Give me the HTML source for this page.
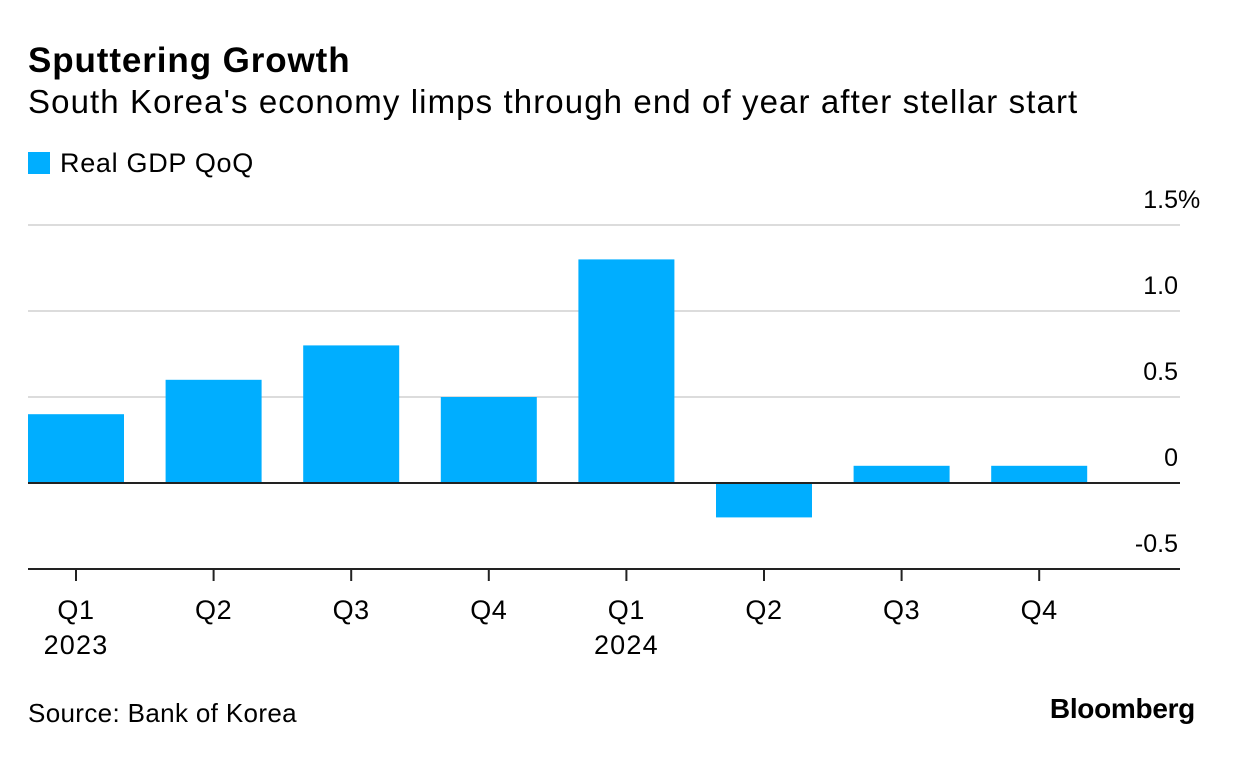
<!DOCTYPE html>
<html><head><meta charset="utf-8"><style>
body{margin:0;background:#fff;width:1233px;height:770px;overflow:hidden;font-family:"Liberation Sans",Arial,sans-serif;color:#000}
.t{position:absolute;left:28px;white-space:nowrap}
</style></head><body>
<div class="t" style="top:41px;font-size:35px;font-weight:bold;letter-spacing:0.9px">Sputtering Growth</div>
<div class="t" style="top:83px;font-size:33px;letter-spacing:1.1px">South Korea's economy limps through end of year after stellar start</div>
<div class="t" style="top:148px;font-size:27px;letter-spacing:0.7px"><span style="display:inline-block;width:22px;height:22px;background:#00aeff;vertical-align:-2px;margin-right:10px"></span>Real GDP QoQ</div>
<svg id="c" width="1233" height="770" style="position:absolute;left:0;top:0"></svg>
<div class="t" style="top:698px;font-size:26px;letter-spacing:0.35px">Source: Bank of Korea</div>
<div style="position:absolute;right:38px;top:693px;font-size:28px;font-weight:bold;letter-spacing:-0.3px">Bloomberg</div>
<script>
const categories=["Q1","Q2","Q3","Q4","Q1","Q2","Q3","Q4"];
const years=["2023","","","","2024","","",""];
const values=[0.4,0.6,0.8,0.5,1.3,-0.2,0.1,0.1];
const yTicks=[-0.5,0,0.5,1.0,1.5];
const yTickLabels=["-0.5","0","0.5","1.0","1.5"];
const svg=document.getElementById('c');const NS='http://www.w3.org/2000/svg';
const x0=28,x1=1180,step=137.6,bw=96;
const y=v=>483-v*172;
const xb=i=>x0+i*step;
function mk(t,a){const e=document.createElementNS(NS,t);for(const k in a)e.setAttribute(k,a[k]);svg.appendChild(e);return e;}
yTicks.forEach((v,i)=>{
 if(v>0){const g=mk('line',{x1:x0,x2:x1,y1:y(v),y2:y(v),stroke:'#dcdcdc','stroke-width':2});
 
 }
 const t=mk('text',{x:1178,y:y(v)-17,'text-anchor':'end','font-size':25,'font-family':'Liberation Sans, sans-serif'});
 t.textContent=yTickLabels[i];
 
 
 if(i===yTicks.length-1){const p=mk('text',{x:1178,y:y(v)-17,'font-size':25,'font-family':'Liberation Sans, sans-serif'});
 p.textContent='%';
 
 }
});
values.forEach((v,i)=>{
 const r=mk('rect',{x:xb(i),y:Math.min(y(v),y(0)),width:bw,height:Math.abs(y(v)-y(0)),fill:'#00aeff'});
 
 
 const cx=xb(i)+bw/2;
 const tk=mk('line',{x1:cx,x2:cx,y1:569,y2:581,stroke:'#222','stroke-width':2});
 
 
 const l=mk('text',{x:cx,y:619,'text-anchor':'middle','font-size':27,'letter-spacing':'0.6','font-family':'Liberation Sans, sans-serif'});
 l.textContent=categories[i];
 
 
 if(years[i]){const yl=mk('text',{x:cx,y:654,'text-anchor':'middle','font-size':27,'letter-spacing':'1.2','font-family':'Liberation Sans, sans-serif'});
 yl.textContent=years[i];
 
 }
});
const z=mk('line',{x1:x0,x2:x1,y1:y(0),y2:y(0),stroke:'#222','stroke-width':2});


const ax=mk('line',{x1:x0,x2:x1,y1:569,y2:569,stroke:'#222','stroke-width':2});


</script>
</body></html>
